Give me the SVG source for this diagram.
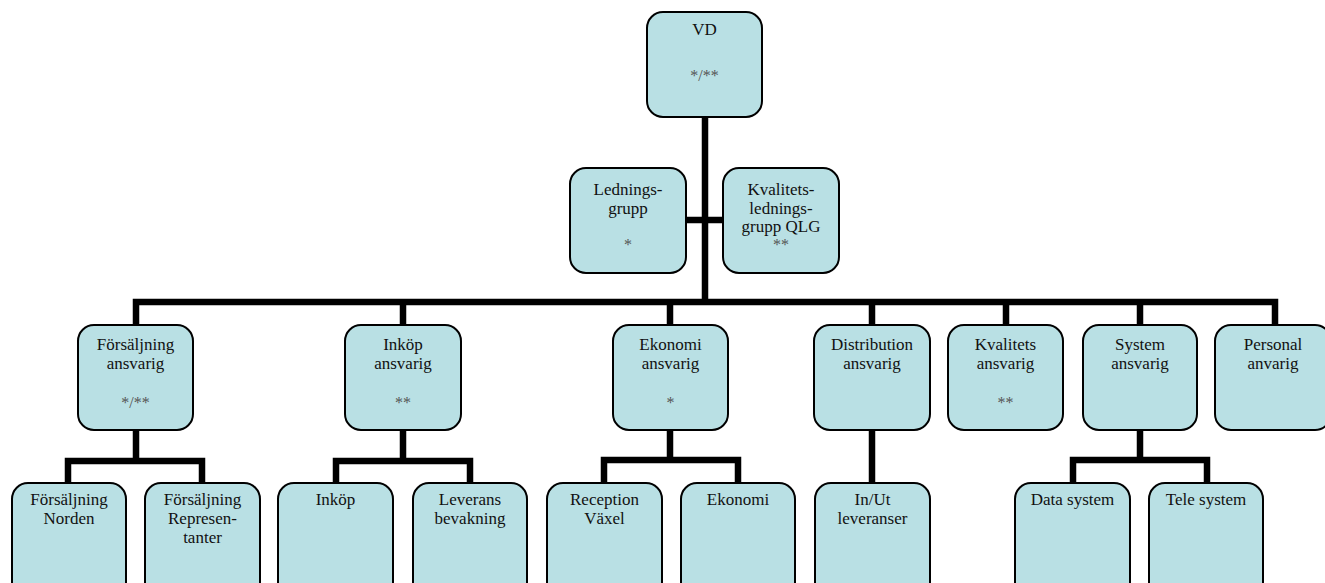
<svg xmlns="http://www.w3.org/2000/svg" width="1325" height="583" viewBox="0 0 1325 583">
<style>
.box{fill:#b9e0e4;stroke:#000;stroke-width:2}
.t{font-family:"Liberation Serif","Times New Roman",serif;font-size:17px;fill:#111;text-anchor:middle}
.s{font-family:"Liberation Serif","Times New Roman",serif;font-size:16px;fill:#555;text-anchor:middle}
.c{fill:none;stroke:#000;stroke-width:6.5;stroke-linejoin:miter;stroke-linecap:butt}
</style>
<rect width="1325" height="583" fill="#fff"/>
<g id="connectors">
<path class="c" d="M705 117V305"/>
<path class="c" d="M686 220H723"/>
<path class="c" d="M136 325V302H1275V325"/>
<path class="c" d="M403 302V325M670 302V325M872 302V325M1006 302V325M1140 302V325"/>
<path class="c" d="M136 430V461M68 483V461H202V483"/>
<path class="c" d="M403 430V461M336 483V461H470V483"/>
<path class="c" d="M670 430V460M604 483V460H738V483"/>
<path class="c" d="M872 430V483"/>
<path class="c" d="M1140 430V460M1073 483V460H1207V483"/>
</g>
<g id="vd"><rect class="box" x="647" y="12" width="115" height="105" rx="16"/>
<text class="t" x="704.5" y="35">VD</text><text class="s" x="704.5" y="81">*/**</text></g>
<g id="ledningsgrupp"><rect class="box" x="570" y="168" width="116" height="105" rx="16"/>
<text class="t" x="628" y="195">Lednings-</text><text class="t" x="628" y="213.5">grupp</text><text class="s" x="628" y="250">*</text></g>
<g id="kvalitetsledningsgrupp"><rect class="box" x="723" y="168" width="116" height="105" rx="16"/>
<text class="t" x="781" y="195">Kvalitets-</text><text class="t" x="781" y="213.5">lednings-</text><text class="t" x="781" y="232">grupp QLG</text><text class="s" x="781" y="250">**</text></g>
<g id="forsaljning-ansvarig"><rect class="box" x="78" y="325" width="115" height="105" rx="16"/>
<text class="t" x="135.5" y="350">Försäljning</text><text class="t" x="135.5" y="369">ansvarig</text><text class="s" x="135.5" y="408">*/**</text></g>
<g id="inkop-ansvarig"><rect class="box" x="345" y="325" width="116" height="105" rx="16"/>
<text class="t" x="403" y="350">Inköp</text><text class="t" x="403" y="369">ansvarig</text><text class="s" x="403" y="408">**</text></g>
<g id="ekonomi-ansvarig"><rect class="box" x="613" y="325" width="115" height="105" rx="16"/>
<text class="t" x="670.5" y="350">Ekonomi</text><text class="t" x="670.5" y="369">ansvarig</text><text class="s" x="670.5" y="408">*</text></g>
<g id="distribution-ansvarig"><rect class="box" x="814" y="325" width="116" height="105" rx="16"/>
<text class="t" x="872" y="350">Distribution</text><text class="t" x="872" y="369">ansvarig</text></g>
<g id="kvalitets-ansvarig"><rect class="box" x="948" y="325" width="115" height="105" rx="16"/>
<text class="t" x="1005.5" y="350">Kvalitets</text><text class="t" x="1005.5" y="369">ansvarig</text><text class="s" x="1005.5" y="408">**</text></g>
<g id="system-ansvarig"><rect class="box" x="1083" y="325" width="114" height="105" rx="16"/>
<text class="t" x="1140" y="350">System</text><text class="t" x="1140" y="369">ansvarig</text></g>
<g id="personal-anvarig"><rect class="box" x="1215" y="325" width="116" height="105" rx="16"/>
<text class="t" x="1273" y="350">Personal</text><text class="t" x="1273" y="369">anvarig</text></g>
<g id="forsaljning-norden"><rect class="box" x="12" y="483" width="114" height="120" rx="16"/>
<text class="t" x="69" y="505">Försäljning</text><text class="t" x="69" y="524">Norden</text></g>
<g id="forsaljning-representanter"><rect class="box" x="145" y="483" width="115" height="120" rx="16"/>
<text class="t" x="202.5" y="505">Försäljning</text><text class="t" x="202.5" y="524">Represen-</text><text class="t" x="202.5" y="543">tanter</text></g>
<g id="inkop"><rect class="box" x="278" y="483" width="115" height="120" rx="16"/>
<text class="t" x="335.5" y="505">Inköp</text></g>
<g id="leverans-bevakning"><rect class="box" x="413" y="483" width="114" height="120" rx="16"/>
<text class="t" x="470" y="505">Leverans</text><text class="t" x="470" y="524">bevakning</text></g>
<g id="reception-vaxel"><rect class="box" x="547" y="483" width="115" height="120" rx="16"/>
<text class="t" x="604.5" y="505">Reception</text><text class="t" x="604.5" y="524">Växel</text></g>
<g id="ekonomi"><rect class="box" x="681" y="483" width="114" height="120" rx="16"/>
<text class="t" x="738" y="505">Ekonomi</text></g>
<g id="in-ut-leveranser"><rect class="box" x="815" y="483" width="115" height="120" rx="16"/>
<text class="t" x="872.5" y="505">In/Ut</text><text class="t" x="872.5" y="524">leveranser</text></g>
<g id="data-system"><rect class="box" x="1015" y="483" width="115" height="120" rx="16"/>
<text class="t" x="1072.5" y="505">Data system</text></g>
<g id="tele-system"><rect class="box" x="1149" y="483" width="114" height="120" rx="16"/>
<text class="t" x="1206" y="505">Tele system</text></g>
</svg>
